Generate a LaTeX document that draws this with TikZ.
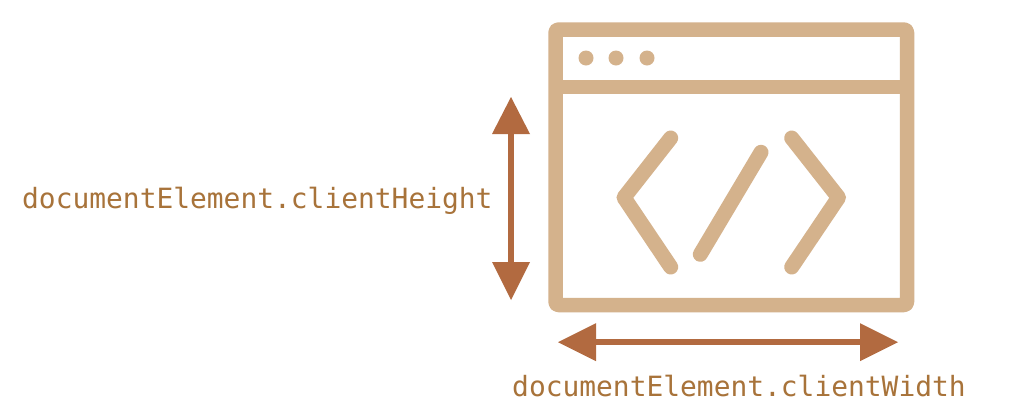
\documentclass[tikz,border=0pt]{standalone}
\usepackage{fontspec}
\setmonofont{DejaVu Sans Mono}
\definecolor{tan1}{HTML}{D4B28C}
\definecolor{arr}{HTML}{B26A40}
\definecolor{txt}{HTML}{A8733A}
\begin{document}
\begin{tikzpicture}[x=1pt,y=-1pt,
 win/.style={draw=tan1,line width=14.5pt,line join=round},
 code/.style={draw=tan1,line width=15pt,line cap=round,line join=round},
 dim/.style={draw=arr,line width=6pt},
 tip/.style={fill=arr,draw=none},
 lab/.style={font=\ttfamily\fontsize{27.9}{30}\selectfont,text=txt,inner sep=0pt,anchor=base west}]
\useasboundingbox (0,0) rectangle (1012,416);
\fill[white] (0,0) rectangle (1012,416);
\draw[win,rounded corners=3pt] (555.5,29.5) rectangle (907,305);
\draw[win] (555.5,87) -- (907,87);
\foreach \x in {586,616,647} \fill[tan1] (\x,58) circle (7.5);
\draw[code] (670.7,138) -- (624,197.5) -- (670.7,267);
\draw[code] (791.7,138) -- (838.5,197.5) -- (791.7,267);
\draw[code] (761,152.3) -- (700.3,254.3);
\coordinate (vt) at (511,97); \coordinate (vb) at (511,300);
\coordinate (vt2) at (511,134); \coordinate (vb2) at (511,262);
\coordinate (hl) at (558,342.2); \coordinate (hr) at (898,342.2);
\coordinate (hl2) at (596,342.2); \coordinate (hr2) at (860,342.2);
\draw[dim] (vt2) -- (vb2);
\draw[dim] (hl2) -- (hr2);
\fill[tip] (vt) -- (530,134) -- (492,134) -- cycle;
\fill[tip] (vb) -- (530,262) -- (492,262) -- cycle;
\fill[tip] (hl) -- (596,323.2) -- (596,361.2) -- cycle;
\fill[tip] (hr) -- (860,323.2) -- (860,361.2) -- cycle;
\node[lab] (h) at (22,208) {documentElement.clientHeight};
\node[lab] (w) at (512,396.5) {documentElement.clientWidth};
\end{tikzpicture}
\end{document}
